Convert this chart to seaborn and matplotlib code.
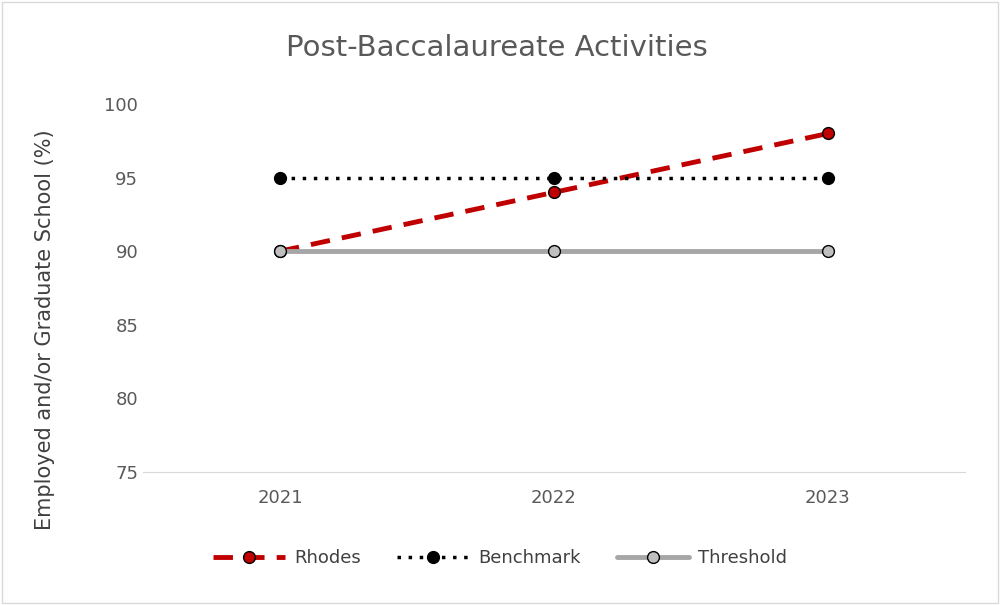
import pandas as pd
import seaborn as sns
from matplotlib import pyplot as plt
from matplotlib.patches import Rectangle

years = ["2021", "2022", "2023"]
rhodes = [90, 94, 98]
benchmark = [95, 95, 95]
threshold = [90, 90, 90]

sns.set_style("white")
plt.rcParams['font.family'] = ['DejaVu Sans']

df = pd.DataFrame({"year": years * 3,
                   "value": rhodes + benchmark + threshold,
                   "series": ["Rhodes"] * 3 + ["Benchmark"] * 3 + ["Threshold"] * 3})

fig = plt.figure(figsize=(10, 6.05), dpi=100)
ax = fig.add_axes([0.143, 0.22, 0.822, 0.608])

styles = {
    "Rhodes": dict(color="#c00000", ls=(0, (4, 2.5)), lw=3.5, mfc="#c00000"),
    "Benchmark": dict(color="black", ls=(0, (1, 2.2)), lw=2.5, mfc="black"),
    "Threshold": dict(color="#a6a6a6", ls="-", lw=3.5, mfc="#bfbfbf"),
}
for name in ["Rhodes", "Benchmark", "Threshold"]:
    s = styles[name]
    sub = df[df.series == name]
    sns.lineplot(data=sub, x="year", y="value", ax=ax, color=s["color"], linestyle=s["ls"],
                 linewidth=s["lw"], marker="o", markersize=8.5, markerfacecolor=s["mfc"],
                 markeredgecolor="black", markeredgewidth=1, label=name, sort=False)

ax.set_xlim(-0.5, 2.5)
ax.set_ylim(75, 100)
ax.set_yticks([75, 80, 85, 90, 95, 100])
ax.set_xlabel("")
ax.set_ylabel("Employed and/or Graduate School (%)", fontsize=15, color="#404040")
ax.yaxis.set_label_coords(-0.107, 0.386)
ax.tick_params(axis="both", labelsize=13, colors="#595959", length=0)
ax.tick_params(axis="x", pad=12)
for sp in ["top", "right", "left"]:
    ax.spines[sp].set_visible(False)
ax.spines["bottom"].set_color("#d9d9d9")
fig.text(0.497, 0.92, "Post-Baccalaureate Activities", fontsize=21, color="#595959",
         ha="center", va="center")

h, l = ax.get_legend_handles_labels()
ax.legend(h, l, loc="center", bbox_to_anchor=(0.434, -0.234),
          ncol=3, frameon=False, fontsize=13, handlelength=4, columnspacing=2.0,
          handletextpad=0.5, labelcolor="#404040")

fig.patches.append(Rectangle((0.002, 0.003), 0.996, 0.994, transform=fig.transFigure,
                             fill=False, edgecolor="#d9d9d9", lw=1))
fig.savefig("out.png", dpi=100)
